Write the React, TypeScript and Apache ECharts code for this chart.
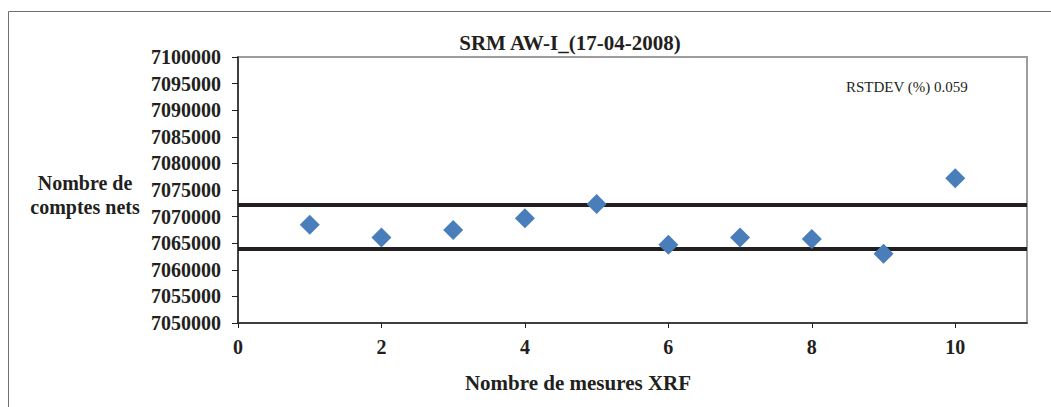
import React, { useEffect, useRef } from "react";
import * as echarts from "echarts";

const measureIndex = [1, 2, 3, 4, 5, 6, 7, 8, 9, 10];
const netCounts = [7068450, 7066050, 7067500, 7069700, 7072350, 7064700, 7066050, 7065800, 7063000, 7077200];
const limitLines = [7072200, 7063900];
const xTickValues = [0, 2, 4, 6, 8, 10];
const titleText = "SRM AW-I_(17-04-2008)";
const rstdevText = "RSTDEV (%) 0.059";
const yName = "Nombre de\ncomptes nets";
const xName = "Nombre de mesures XRF";

const FONT = "'Liberation Serif', 'Times New Roman', serif";
const INK = "#231f20";

export default function App() {
  const ref = useRef<HTMLDivElement>(null);
  useEffect(() => {
    if (!ref.current) return;
    const chart = echarts.init(ref.current, null, { renderer: "svg" });
    const lineSeries = limitLines.map((v) => ({
      type: "line",
      data: [[0, v], [11, v]],
      symbol: "none",
      silent: true,
      z: 1,
      lineStyle: { color: INK, width: 4 },
    }));
    chart.setOption({
      animation: false,
      grid: {
        left: 238,
        top: 57,
        right: 24,
        bottom: 84,
        show: true,
        borderColor: "#9d9d9d",
        borderWidth: 2,
        backgroundColor: "transparent",
      },
      xAxis: {
        type: "value",
        min: 0,
        max: 11,
        interval: 2,
        splitLine: { show: false },
        axisLine: { show: true, onZero: false, lineStyle: { color: INK, width: 1.5 } },
        axisTick: { show: true, length: 5, inside: false, customValues: xTickValues, lineStyle: { color: INK, width: 1 } },
        axisLabel: {
          customValues: xTickValues,
          margin: 14,
          fontFamily: FONT,
          fontWeight: "bold",
          fontSize: 20,
          color: INK,
        },
      },
      yAxis: {
        type: "value",
        min: 7050000,
        max: 7100000,
        interval: 5000,
        splitLine: { show: false },
        axisLine: { show: true, onZero: false, lineStyle: { color: INK, width: 1.5 } },
        axisTick: { show: true, length: 6, lineStyle: { color: INK, width: 1 } },
        axisLabel: {
          margin: 17,
          fontFamily: FONT,
          fontWeight: "bold",
          fontSize: 20,
          color: INK,
          formatter: (v: number) => String(v),
        },
      },
      series: [
        ...lineSeries,
        {
          type: "scatter",
          data: measureIndex.map((x, i) => [x, netCounts[i]]),
          symbol: "diamond",
          symbolSize: 20,
          z: 3,
          itemStyle: { color: "#4a7ebb", opacity: 1 },
        },
      ],
      graphic: [
        {
          type: "rect",
          shape: { x: 8.5, y: 11.5, width: 1200, height: 600 },
          style: { fill: "none", stroke: "#6f6f6f", lineWidth: 1 },
          silent: true,
        },
        {
          type: "text",
          x: 570,
          y: 43,
          style: {
            text: titleText,
            font: `bold 21px ${FONT}`,
            fill: INK,
            textAlign: "center",
            textVerticalAlign: "middle",
          },
        },
        {
          type: "text",
          x: 85,
          y: 195,
          style: {
            text: yName,
            font: `bold 20px ${FONT}`,
            lineHeight: 24,
            fill: INK,
            textAlign: "center",
            textVerticalAlign: "middle",
          },
        },
        {
          type: "text",
          x: 578,
          y: 383,
          style: {
            text: xName,
            font: `bold 21px ${FONT}`,
            fill: INK,
            textAlign: "center",
            textVerticalAlign: "middle",
          },
        },
        {
          type: "text",
          x: 846,
          y: 87,
          style: {
            text: rstdevText,
            font: `15px ${FONT}`,
            fill: INK,
            textAlign: "left",
            textVerticalAlign: "middle",
          },
        },
      ],
    });
    return () => chart.dispose();
  }, []);
  return (
    <div
      ref={ref}
      style={{ position: "absolute", left: 0, top: 0, width: 1051, height: 407, background: "#fff" }}
    />
  );
}
